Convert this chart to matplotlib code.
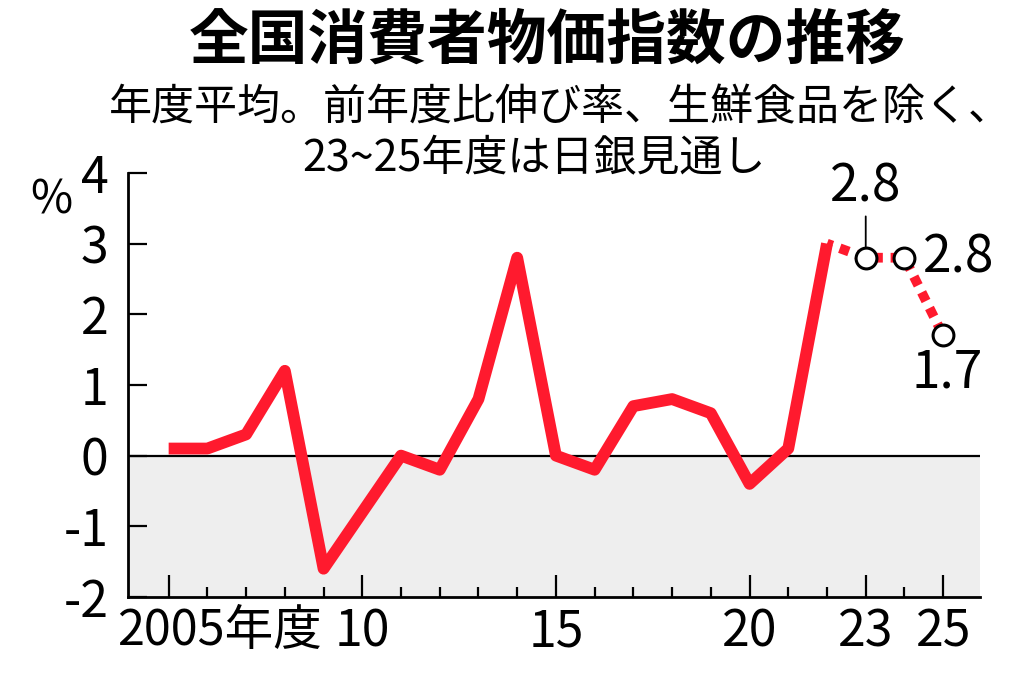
import matplotlib
matplotlib.use("Agg")
import matplotlib.pyplot as plt

plt.rcParams['font.family'] = ['Noto Sans CJK JP', 'DejaVu Sans']
plt.rcParams['axes.unicode_minus'] = False

# 実績 (年度, 前年度比 %)
years = [2005, 2006, 2007, 2008, 2009, 2010, 2011, 2012, 2013, 2014,
         2015, 2016, 2017, 2018, 2019, 2020, 2021, 2022]
cpi = [0.1, 0.1, 0.3, 1.2, -1.6, -0.8, 0.0, -0.2, 0.8, 2.8,
       0.0, -0.2, 0.7, 0.8, 0.6, -0.4, 0.1, 3.0]

# 日銀見通し
fc_years = [2022, 2023, 2024, 2025]
fc_cpi = [3.0, 2.8, 2.8, 1.7]

xticks_major = [2005, 2010, 2015, 2020, 2023, 2025]
xlabels_major = ['', '10', '15', '20', '23', '25']
yticks = [-2, -1, 0, 1, 2, 3, 4]

red = '#ff1a2e'

fig = plt.figure(figsize=(10.24, 6.78), dpi=100)
ax = fig.add_axes([0.125, 0.1195, 0.832, 0.6255])

ax.axhspan(-2, 0, color='#eeeeee', zorder=0)
ax.axhline(0, color='black', lw=1.6, zorder=1)

ax.plot(years, cpi, color=red, lw=8.5, solid_capstyle='butt',
        solid_joinstyle='round', zorder=3)
ax.plot(fc_years, fc_cpi, color=red, lw=7, linestyle=(0.4, (1.0, 0.8)),
        dash_capstyle='butt', zorder=3)
ax.plot(fc_years[1:], fc_cpi[1:], linestyle='none', marker='o', ms=15,
        mfc='white', mec='black', mew=2.2, zorder=4)

# 見通しのラベル
ax.annotate(f'{fc_cpi[1]}', xy=(fc_years[1], fc_cpi[1]), xytext=(0, 51),
            textcoords='offset points', ha='center', va='center', fontsize=37,
            arrowprops=dict(arrowstyle='-', color='black', lw=1.3,
                            shrinkA=0, shrinkB=8))
ax.annotate(f'{fc_cpi[2]}', xy=(fc_years[2], fc_cpi[2]), xytext=(13, 0),
            textcoords='offset points', ha='left', va='center', fontsize=37)
ax.annotate(f'{fc_cpi[3]}', xy=(fc_years[3], fc_cpi[3]), xytext=(3, -27),
            textcoords='offset points', ha='center', va='center', fontsize=37)

ax.set_xlim(2003.95, 2025.95)
ax.set_ylim(-2, 4)

ax.set_yticks(yticks)
ax.set_yticklabels([str(v) for v in yticks])
ax.set_xticks(xticks_major)
ax.set_xticklabels(xlabels_major)
ax.set_xticks([y for y in range(2005, 2026) if y not in xticks_major], minor=True)

ax.tick_params(axis='y', direction='in', length=14, width=1.6, pad=14,
               labelsize=36)
ax.tick_params(axis='x', which='major', direction='in', length=16, width=1.6,
               pad=7, labelsize=36)
ax.tick_params(axis='x', which='minor', direction='in', length=7, width=1.6)

for s in ['top', 'right']:
    ax.spines[s].set_visible(False)
for s in ['left', 'bottom']:
    ax.spines[s].set_linewidth(2)

ax.annotate('2005年度', xy=(2005, 0), xycoords=('data', 'axes fraction'),
            xytext=(-37, -7), textcoords='offset points', ha='left', va='top',
            fontsize=35)
ax.text(-0.09, 0.935, '%', transform=ax.transAxes, ha='center', va='center',
        fontsize=33)

fig.text(0.534, 0.938, '全国消費者物価指数の推移', ha='center', va='center',
         fontsize=43, fontweight='bold')
fig.text(0.547, 0.84, '年度平均。前年度比伸び率、生鮮食品を除く、', ha='center',
         va='center', fontsize=31)
fig.text(0.521, 0.765, '23~25年度は日銀見通し', ha='center', va='center',
         fontsize=31)

fig.savefig('out.png', dpi=100)
